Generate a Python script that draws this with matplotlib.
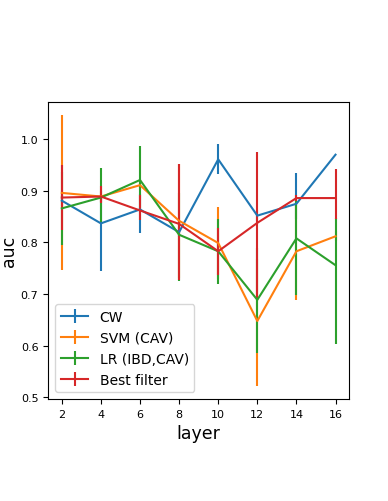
import numpy as np
import matplotlib
matplotlib.use("Agg")
import matplotlib.pyplot as plt

layers = [2, 4, 6, 8, 10, 12, 14, 16]

# mean auc per layer, with lower / upper error extents
cw_mean = [0.881, 0.837, 0.864, 0.820, 0.961, 0.852, 0.875, 0.970]
cw_lo = [0.01, 0.092, 0.046, 0.01, 0.028, 0.01, 0.03, 0.0]
cw_hi = [0.01, 0.05, 0.03, 0.01, 0.030, 0.01, 0.059, 0.0]

svm_mean = [0.896, 0.889, 0.911, 0.842, 0.799, 0.648, 0.783, 0.812]
svm_lo = [0.15, 0.01, 0.01, 0.11, 0.069, 0.125, 0.094, 0.01]
svm_hi = [0.15, 0.01, 0.01, 0.109, 0.069, 0.12, 0.09, 0.01]

lr_mean = [0.866, 0.887, 0.921, 0.815, 0.783, 0.689, 0.808, 0.756]
lr_lo = [0.07, 0.049, 0.06, 0.089, 0.063, 0.102, 0.109, 0.153]
lr_hi = [0.07, 0.057, 0.065, 0.08, 0.063, 0.10, 0.072, 0.091]

best_mean = [0.887, 0.889, 0.862, 0.836, 0.783, 0.838, 0.886, 0.886]
best_lo = [0.062, 0.013, 0.018, 0.108, 0.045, 0.145, 0.005, 0.04]
best_hi = [0.063, 0.02, 0.030, 0.115, 0.045, 0.137, 0.006, 0.057]

series = [
    ("CW", cw_mean, cw_lo, cw_hi),
    ("SVM (CAV)", svm_mean, svm_lo, svm_hi),
    ("LR (IBD,CAV)", lr_mean, lr_lo, lr_hi),
    ("Best filter", best_mean, best_lo, best_hi),
]

fig = plt.figure(figsize=(3.88, 5.02), dpi=100)
ax = fig.add_axes([0.124, 0.203, 0.776, 0.592])

for name, mean, lo, hi in series:
    ax.errorbar(layers, mean, yerr=[lo, hi], label=name, linewidth=1.5)

ax.set_xticks(layers)
ax.tick_params(labelsize=8)
ax.set_xlabel("layer", fontsize=12.5)
ax.set_ylabel("auc", fontsize=12.5)
ax.yaxis.set_label_coords(-0.10, 0.5)
ax.legend(loc="lower left", fontsize=10)

fig.savefig("out.png", dpi=100)
